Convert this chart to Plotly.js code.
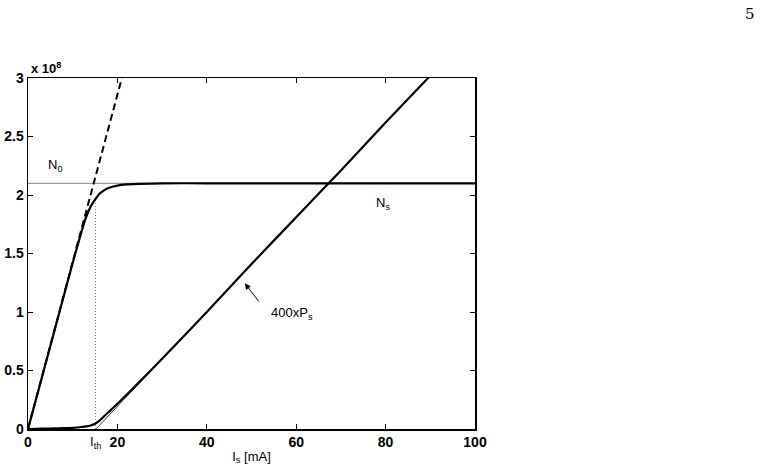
<!DOCTYPE html>
<html>
<head>
<meta charset="utf-8">
<script src="https://cdn.plot.ly/plotly-3.0.1.min.js"></script>
<style>
  body { margin: 0; background: #fff; }
  #chart { width: 762px; height: 475px; }
</style>
</head>
<body>
<div id="chart"></div>
<script>
'use strict';

// pump current I_s [mA] and carrier number N_s (x 10^8)
var currentNs = [0, 5, 10, 12, 13, 14, 15, 16, 17, 18, 20, 22, 25, 30, 40, 60, 100];
var carrierNs = [0, 0.71, 1.42, 1.69, 1.81, 1.90, 1.96, 2.01, 2.04, 2.06, 2.08, 2.09, 2.095, 2.1, 2.1, 2.1, 2.1];

// photon number 400 x P_s (x 10^8)
var currentPs = [0, 2, 4, 6, 8, 10, 11, 12, 13, 14, 15, 16, 17, 18, 19, 20, 22, 25, 30, 40, 50, 60, 70, 80, 90];
var photonPs = [0, 0.002, 0.003, 0.005, 0.007, 0.010, 0.013, 0.017, 0.022, 0.030, 0.045, 0.072, 0.108, 0.143, 0.18, 0.215, 0.29, 0.405, 0.60, 1.00, 1.41, 1.81, 2.21, 2.62, 3.02];

// unsaturated linear growth (dashed)
var currentLin = [0, 21];
var carrierLin = [0, 3];

// above-threshold asymptote of P_s
var currentAsym = [15.2, 90];
var photonAsym = [0, 3.02];

// transparency level N_0 and threshold current
var n0Level = 2.1;
var iThreshold = 15.1;
var nAtThreshold = 1.96;

var xTicks = [0, 20, 40, 60, 80, 100];
var yTicks = [0, 0.5, 1, 1.5, 2, 2.5, 3];
var yTickText = ['0', '0.5', '1', '1.5', '2', '2.5', '3'];

var traces = [
  { x: [0, 100], y: [n0Level, n0Level], mode: 'lines', line: { color: '#808080', width: 1 } },
  { x: [iThreshold, iThreshold], y: [0, nAtThreshold], mode: 'lines', line: { color: '#808080', width: 1, dash: '1px,2px' } },
  { x: currentLin, y: carrierLin, mode: 'lines', line: { color: '#000', width: 2, dash: '7px,4px' } },
  { x: currentAsym, y: photonAsym, mode: 'lines', line: { color: '#000', width: 0.8 } },
  { x: currentNs, y: carrierNs, mode: 'lines', line: { color: '#000', width: 2.2, shape: 'spline', smoothing: 0.6 } },
  { x: currentPs, y: photonPs, mode: 'lines', line: { color: '#000', width: 2.2, shape: 'spline', smoothing: 0.6 } }
];

var tickFont = { family: 'Liberation Sans, Arial, sans-serif', size: 14, color: '#000', weight: 'bold' };
var labelFont = { family: 'Liberation Sans, Arial, sans-serif', size: 13, color: '#000' };

var layout = {
  width: 762,
  height: 475,
  margin: { l: 28, r: 287, t: 78, b: 46 },
  paper_bgcolor: '#fff',
  plot_bgcolor: '#fff',
  showlegend: false,
  xaxis: {
    range: [0, 100],
    tickvals: xTicks,
    ticks: 'inside',
    ticklen: 5,
    tickcolor: '#000',
    showline: true,
    linecolor: '#000',
    linewidth: 1.5,
    mirror: 'ticks',
    showgrid: false,
    zeroline: false,
    tickfont: tickFont,
    title: { text: 'I<sub>s</sub> [mA]', font: labelFont, standoff: 2 }
  },
  yaxis: {
    range: [0, 3],
    tickvals: yTicks,
    ticktext: yTickText,
    ticks: 'inside',
    ticklen: 5,
    tickcolor: '#000',
    showline: true,
    linecolor: '#000',
    linewidth: 1.5,
    mirror: 'ticks',
    showgrid: false,
    zeroline: false,
    tickfont: tickFont
  },
  annotations: [
    { xref: 'paper', yref: 'paper', x: 0.003, y: 1.0, xanchor: 'left', yanchor: 'bottom',
      text: '<b>x 10<sup>8</sup></b>', showarrow: false,
      font: { family: 'Liberation Sans, Arial, sans-serif', size: 13, color: '#000' } },
    { x: 6, y: 2.25, text: 'N<sub>0</sub>', showarrow: false, font: labelFont },
    { x: 79.5, y: 1.93, text: 'N<sub>s</sub>', showarrow: false, font: labelFont },
    { x: 48.5, y: 1.245, ax: 17, ay: 22, text: ' ', showarrow: true, arrowhead: 2,
      arrowsize: 1.2, arrowwidth: 1, arrowcolor: '#000' },
    { x: 59, y: 0.99, text: '400xP<sub>s</sub>', showarrow: false, font: labelFont },
    { x: iThreshold, xref: 'x', yref: 'paper', y: 0, yshift: -24, text: 'I<sub>th</sub>',
      showarrow: false, font: labelFont },
    { xref: 'paper', yref: 'paper', x: 1.615, y: 1.182, xanchor: 'center', yanchor: 'middle',
      text: '5', showarrow: false,
      font: { family: 'DejaVu Serif, serif', size: 15, color: '#000' } }
  ]
};

Plotly.newPlot('chart', traces, layout, { displayModeBar: false, staticPlot: true });
</script>
</body>
</html>
